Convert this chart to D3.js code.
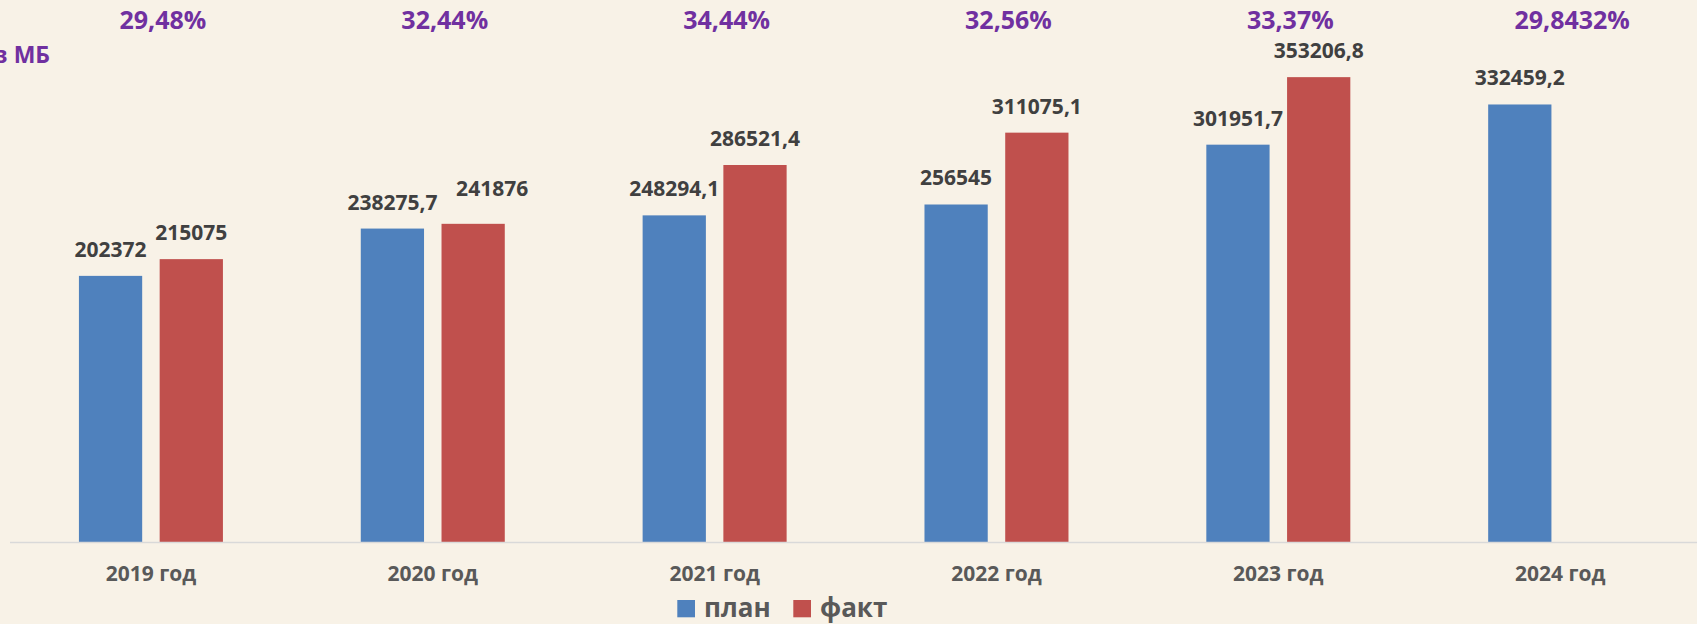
<!DOCTYPE html>
<html>
<head>
<meta charset="utf-8">
<script src="https://cdn.jsdelivr.net/npm/d3@7"></script>
<style>
  html, body { margin: 0; padding: 0; background: #F8F2E7; overflow: hidden; }
  svg { display: block; }
  text { font-family: "Open Sans", "Noto Sans", sans-serif; font-weight: 700; }
</style>
</head>
<body>
<svg id="chart" width="1697" height="624"></svg>
<script>
// ---- data ----
const categories = ["2019 год", "2020 год", "2021 год", "2022 год", "2023 год", "2024 год"];
const seriesNames = ["план", "факт"];
const planValues = [202372, 238275.7, 248294.1, 256545, 301951.7, 332459.2];
const factValues = [215075, 241876, 286521.4, 311075.1, 353206.8, null];
const planLabels = ["202372", "238275,7", "248294,1", "256545", "301951,7", "332459,2"];
const factLabels = ["215075", "241876", "286521,4", "311075,1", "353206,8", ""];
const percentLabels = ["29,48%", "32,44%", "34,44%", "32,56%", "33,37%", "29,8432%"];
const unitLabel = "в МБ";
const yDomain = [0, 400000];

// ---- layout ----
const W = 1697, H = 624;
const baseY = 542.5;
const svg = d3.select("#chart");
const colors = { "план": "#4F81BD", "факт": "#C0504D" };
// manual label nudges as in the original (label moved by hand)
const labelNudge = { "2020 год|факт": [19, -9] };

const x0 = d3.scaleBand().domain(categories).range([10, 10 + 6 * 281.85]).paddingInner(0).paddingOuter(0);
const x1 = d3.scaleBand().domain(seriesNames).range([-72, 72]).paddingInner(0.2166).paddingOuter(0);
const y = d3.scaleLinear().domain(yDomain).range([baseY, baseY - 400000 / 759]);

const rows = categories.map((c, i) => ({
  cat: c,
  items: [
    { cat: c, s: "план", v: planValues[i], label: planLabels[i] },
    { cat: c, s: "факт", v: factValues[i], label: factLabels[i] }
  ].filter(d => d.v != null)
}));

const center = c => x0(c) + x0.bandwidth() / 2;
const nudge = d => labelNudge[d.cat + "|" + d.s] || [0, 0];

// bars
const g = svg.selectAll("g.grp").data(rows).join("g")
  .attr("class", "grp")
  .attr("transform", d => `translate(${center(d.cat)},0)`);

g.selectAll("rect").data(d => d.items).join("rect")
  .attr("x", d => x1(d.s))
  .attr("width", x1.bandwidth())
  .attr("y", d => y(d.v))
  .attr("height", d => baseY - y(d.v))
  .attr("fill", d => colors[d.s]);

// value labels
g.selectAll("text.val").data(d => d.items).join("text")
  .attr("class", "val")
  .attr("x", d => x1(d.s) + x1.bandwidth() / 2 + nudge(d)[0])
  .attr("y", d => y(d.v) - 19 + nudge(d)[1])
  .attr("text-anchor", "middle")
  .attr("font-size", 21)
  .attr("fill", "#404040")
  .text(d => d.label);

// axis line
svg.append("line")
  .attr("x1", 10).attr("x2", W)
  .attr("y1", baseY).attr("y2", baseY)
  .attr("stroke", "#D9D9D9").attr("stroke-width", 1.5);

// category axis labels
const xAxis = d3.axisBottom(x0).tickSize(0).tickPadding(0);
const ax = svg.append("g").attr("transform", `translate(0,${baseY})`).call(xAxis);
ax.select(".domain").remove();
ax.selectAll("text")
  .attr("y", 38.5).attr("dy", 0)
  .attr("font-size", 21)
  .attr("font-family", "'Open Sans', sans-serif")
  .attr("font-weight", 700)
  .attr("fill", "#595959");

// percent labels
svg.selectAll("text.pct").data(categories).join("text")
  .attr("class", "pct")
  .attr("x", c => center(c) + 12)
  .attr("y", 29)
  .attr("text-anchor", "middle")
  .attr("font-size", 25)
  .attr("fill", "#7030A0")
  .text((c, i) => percentLabels[i]);

// unit label (partially cut at left edge, as in the original)
svg.append("text")
  .attr("x", 50).attr("y", 63.3)
  .attr("text-anchor", "end")
  .attr("font-size", 23)
  .attr("fill", "#7030A0")
  .text(unitLabel);

// legend
const legendX = [677.3, 793.3];
const lg = svg.selectAll("g.leg").data(seriesNames).join("g")
  .attr("class", "leg")
  .attr("transform", (d, i) => `translate(${legendX[i]},600)`);
lg.append("rect").attr("width", 17.7).attr("height", 17.3).attr("fill", d => colors[d]);
lg.append("text")
  .attr("x", 26.7).attr("y", 17.3)
  .attr("font-size", 26)
  .attr("fill", "#595959")
  .text(d => d);
</script>
</body>
</html>
